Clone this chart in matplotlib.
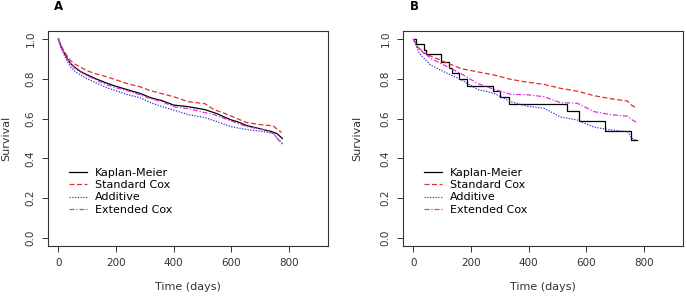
import numpy as np
import matplotlib
matplotlib.use('Agg')
import matplotlib.pyplot as plt

# ---- Panel A: survival estimates (days, survival)
a_km_t = [0, 10, 20, 30, 40, 55, 75, 100, 130, 168, 200, 240, 283, 320, 360,
          400, 450, 509, 550, 596, 620, 654, 711, 740, 758, 770, 778]
a_km_s = [1.0, 0.96, 0.93, 0.905, 0.88, 0.86, 0.838, 0.82, 0.80, 0.778, 0.762,
          0.745, 0.727, 0.705, 0.69, 0.668, 0.66, 0.645, 0.625, 0.595, 0.585,
          0.565, 0.545, 0.535, 0.525, 0.51, 0.50]

a_std_t = [0, 10, 20, 30, 40, 55, 75, 100, 130, 168, 200, 240, 283, 320, 360,
           400, 450, 509, 540, 570, 596, 620, 654, 700, 747, 760, 775]
a_std_s = [1.0, 0.965, 0.94, 0.915, 0.895, 0.875, 0.86, 0.84, 0.825, 0.81,
           0.795, 0.775, 0.76, 0.74, 0.725, 0.71, 0.685, 0.675, 0.645, 0.63,
           0.615, 0.60, 0.58, 0.57, 0.563, 0.545, 0.53]

a_add_t = [0, 10, 20, 30, 40, 55, 75, 100, 130, 168, 200, 240, 283, 320, 360,
           400, 450, 509, 540, 570, 596, 654, 711, 747, 760, 778]
a_add_s = [1.0, 0.955, 0.92, 0.89, 0.865, 0.84, 0.82, 0.80, 0.78, 0.755, 0.74,
           0.72, 0.705, 0.68, 0.66, 0.643, 0.62, 0.605, 0.59, 0.575, 0.56,
           0.545, 0.535, 0.525, 0.50, 0.475]

a_ext_t = [0, 10, 20, 30, 40, 55, 75, 100, 130, 168, 200, 240, 283, 320, 360,
           400, 450, 509, 540, 596, 654, 711, 747, 760, 778]
a_ext_s = [1.0, 0.96, 0.93, 0.90, 0.88, 0.855, 0.835, 0.815, 0.795, 0.77,
           0.755, 0.74, 0.72, 0.70, 0.685, 0.66, 0.65, 0.63, 0.62, 0.59, 0.56,
           0.545, 0.525, 0.50, 0.47]

# ---- Panel B
b_km_t = [0, 8, 37, 45, 95, 124, 135, 158, 185, 276, 301, 332, 532, 575, 665,
          757, 777]
b_km_s = [1.0, 0.973, 0.944, 0.925, 0.886, 0.855, 0.83, 0.797, 0.765, 0.738,
          0.707, 0.675, 0.638, 0.589, 0.539, 0.492, 0.492]

b_std_t = [0, 14, 37, 60, 106, 164, 222, 280, 338, 395, 453, 511, 569, 627,
           685, 743, 760, 777]
b_std_s = [1.0, 0.961, 0.928, 0.914, 0.886, 0.852, 0.835, 0.819, 0.797, 0.783,
           0.772, 0.752, 0.738, 0.715, 0.70, 0.688, 0.665, 0.652]

b_add_t = [0, 20, 60, 106, 164, 222, 280, 338, 395, 453, 511, 569, 627, 685,
           743, 760, 777]
b_add_s = [1.0, 0.928, 0.869, 0.835, 0.797, 0.747, 0.727, 0.685, 0.662, 0.652,
           0.608, 0.593, 0.557, 0.543, 0.535, 0.50, 0.49]

b_ext_t = [0, 20, 60, 106, 164, 222, 280, 338, 395, 453, 511, 569, 627, 685,
           743, 760, 777]
b_ext_s = [1.0, 0.953, 0.902, 0.869, 0.827, 0.777, 0.747, 0.722, 0.72, 0.71,
           0.68, 0.677, 0.635, 0.62, 0.612, 0.593, 0.58]

labels = ['Kaplan-Meier', 'Standard Cox', 'Additive', 'Extended Cox']
colors = ['black', '#e03030', '#3030d0', '#e030e0']
styles = ['-', (0, (4, 2)), (0, (1, 1.2)), (0, (4, 1.5, 1, 1.5))]

W, H = 687, 299
fig = plt.figure(figsize=(W / 100, H / 100), dpi=100)


def panel(left_px, series, tag, km_steps, ylpad):
    ax = fig.add_axes([left_px / W, 1 - 246 / H, 280 / W, 215 / H])
    for i, ((t, s), lab, c, ls) in enumerate(zip(series, labels, colors, styles)):
        ds = 'steps-post' if (i == 0 and km_steps) else 'default'
        ax.plot(t, s, drawstyle=ds, color=c, linestyle=ls,
                linewidth=0.9, label=lab)
    ax.set_xlim(-36, 936)
    ax.set_ylim(-0.04, 1.04)
    ax.set_xticks([0, 200, 400, 600, 800])
    ax.set_yticks([0.0, 0.2, 0.4, 0.6, 0.8, 1.0])
    ax.set_yticklabels(['0.0', '0.2', '0.4', '0.6', '0.8', '1.0'],
                       rotation=90, va='center')
    ax.tick_params(labelsize=7.5, length=4, width=0.7, colors='#333333',
                   labelcolor='#333333', pad=5)
    for sp in ax.spines.values():
        sp.set_color('#333333')
        sp.set_linewidth(0.8)
    ax.set_xlabel('Time (days)', fontsize=8, color='#333333', labelpad=10)
    ax.set_ylabel('Survival', fontsize=8, color='#333333', labelpad=ylpad)
    ax.legend(loc='upper left', bbox_to_anchor=(0.075, 0.365), frameon=False,
              fontsize=8, handlelength=1.6, handletextpad=0.7,
              labelspacing=0.22, borderaxespad=0, borderpad=0)
    fig.text((left_px + 11) / W, 1 - 7 / H, tag, fontsize=8.5,
             fontweight='bold', va='center', ha='center')
    return ax


panel(48, [(a_km_t, a_km_s), (a_std_t, a_std_s),
           (a_add_t, a_add_s), (a_ext_t, a_ext_s)], 'A', False, 10)
panel(403, [(b_km_t, b_km_s), (b_std_t, b_std_s),
            (b_add_t, b_add_s), (b_ext_t, b_ext_s)], 'B', True, 13)

fig.savefig('out.png', dpi=100)
